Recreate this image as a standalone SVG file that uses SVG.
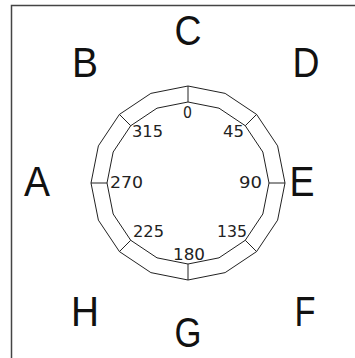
<svg xmlns="http://www.w3.org/2000/svg" width="355" height="358" viewBox="0 0 355 358">
<style>
.frame{fill:none;stroke:#444;stroke-width:1.5}
.ring{fill:none;stroke:#222;stroke-width:1}
.big{font-family:"Liberation Sans",Arial,sans-serif;font-size:43px;fill:#111;text-anchor:middle}
.deg{font-family:"DejaVu Sans","Liberation Sans",sans-serif;font-size:15px;fill:#222}
</style>
<rect width="355" height="358" fill="#fff"/>
<path class="frame" d="M11.5,358 V5.5 H355"/>
<g id="compass">
<polygon class="ring" points="188,86 225.12,93.38 256.59,114.41 277.62,145.88 285,183 277.62,220.12 256.59,251.59 225.12,272.62 188,280 150.88,272.62 119.41,251.59 98.38,220.12 91,183 98.38,145.88 119.41,114.41 150.88,93.38"/>
<polygon class="ring" points="188,102 219,108.17 245.28,125.72 262.83,152 269,183 262.83,214 245.28,240.28 219,257.83 188,264 157,257.83 130.72,240.28 113.17,214 107,183 113.17,152 130.72,125.72 157,108.17"/>
</g>
<g id="connectors" class="ring">
<line x1="188" y1="102" x2="188" y2="86"/>
<line x1="245.28" y1="125.72" x2="256.59" y2="114.41"/>
<line x1="269" y1="183" x2="285" y2="183"/>
<line x1="245.28" y1="240.28" x2="256.59" y2="251.59"/>
<line x1="188" y1="264" x2="188" y2="280"/>
<line x1="130.72" y1="240.28" x2="119.41" y2="251.59"/>
<line x1="107" y1="183" x2="91" y2="183"/>
<line x1="130.72" y1="125.72" x2="119.41" y2="114.41"/>
</g>
<g id="degrees">
<text class="deg" x="183" y="117.5" textLength="9" lengthAdjust="spacingAndGlyphs">0</text>
<text class="deg" x="132" y="136.5" textLength="31" lengthAdjust="spacingAndGlyphs">315</text>
<text class="deg" x="223" y="136.5" textLength="21" lengthAdjust="spacingAndGlyphs">45</text>
<text class="deg" x="110" y="187.5" textLength="33" lengthAdjust="spacingAndGlyphs">270</text>
<text class="deg" x="239" y="187.5" textLength="23" lengthAdjust="spacingAndGlyphs">90</text>
<text class="deg" x="133" y="236.5" textLength="31" lengthAdjust="spacingAndGlyphs">225</text>
<text class="deg" x="217" y="236.5" textLength="30" lengthAdjust="spacingAndGlyphs">135</text>
<text class="deg" x="173" y="259.5" textLength="32" lengthAdjust="spacingAndGlyphs">180</text>
</g>
<g id="node-C"><text class="big" x="188" y="45" textLength="27" lengthAdjust="spacingAndGlyphs">C</text></g>
<g id="node-B"><text class="big" x="85" y="77" textLength="26" lengthAdjust="spacingAndGlyphs">B</text></g>
<g id="node-D"><text class="big" x="306" y="77" textLength="27" lengthAdjust="spacingAndGlyphs">D</text></g>
<g id="node-A"><text class="big" x="37" y="196" textLength="26" lengthAdjust="spacingAndGlyphs">A</text></g>
<g id="node-E"><text class="big" x="302" y="196" textLength="25" lengthAdjust="spacingAndGlyphs">E</text></g>
<g id="node-H"><text class="big" x="85" y="326" textLength="28" lengthAdjust="spacingAndGlyphs">H</text></g>
<g id="node-G"><text class="big" x="188" y="347" textLength="27" lengthAdjust="spacingAndGlyphs">G</text></g>
<g id="node-F"><text class="big" x="305" y="326" textLength="21" lengthAdjust="spacingAndGlyphs">F</text></g>
</svg>
